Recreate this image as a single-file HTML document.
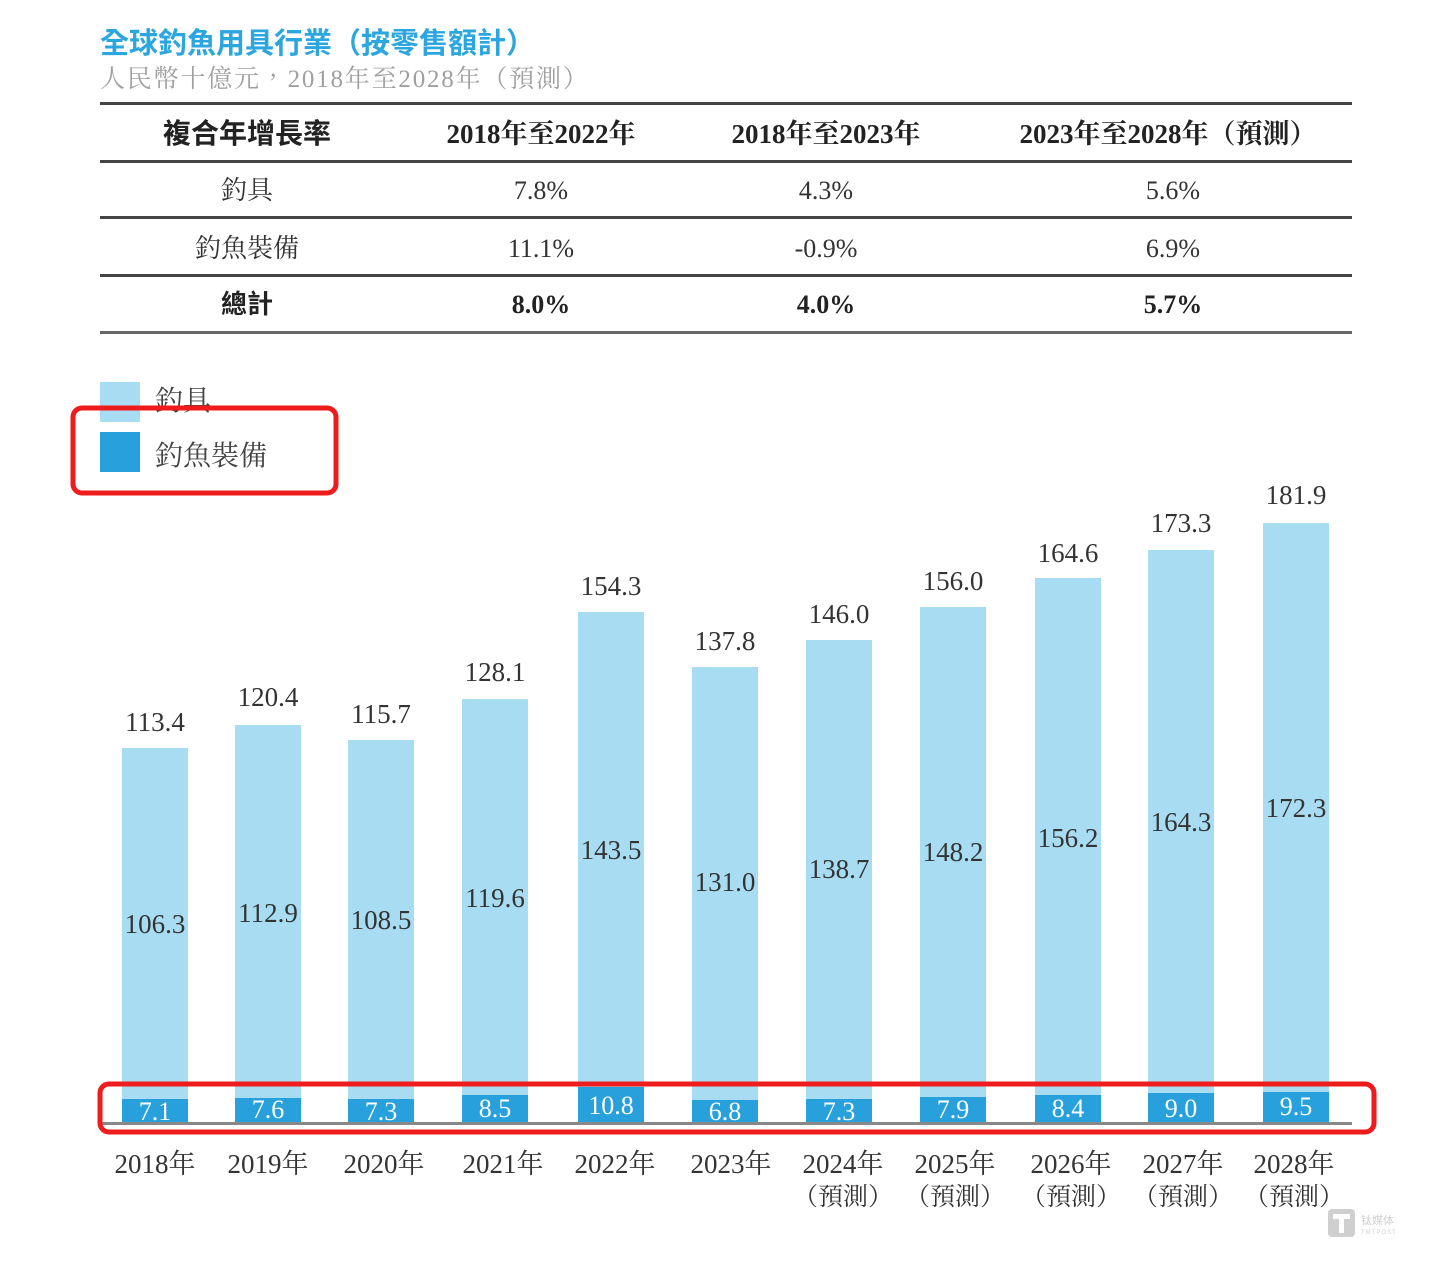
<!DOCTYPE html>
<html>
<head>
<meta charset="utf-8">
<style>
  html,body{margin:0;padding:0;background:#ffffff;}
  body{width:1439px;height:1262px;overflow:hidden;}
  svg{display:block;}
  .serif{font-family:"Liberation Serif","Noto Serif CJK TC","Noto Serif CJK SC",serif;}
  .sans{font-family:"Liberation Sans","Noto Sans CJK TC","Noto Sans CJK SC",sans-serif;}
</style>
</head>
<body>
<svg width="1439" height="1262" viewBox="0 0 1439 1262" xmlns="http://www.w3.org/2000/svg">
  <!-- Title -->
  <text x="100" y="53" class="sans" font-size="29" font-weight="700" fill="#2ba6de">全球釣魚用具行業（按零售額計）</text>
  <text x="100" y="87" class="serif" font-size="25" letter-spacing="1.8" fill="#a0a0a0">人民幣十億元，2018年至2028年（預測）</text>

  <!-- Table lines -->
  <g fill="#444">
    <rect x="100" y="102" width="1252" height="3"/>
    <rect x="100" y="160" width="1252" height="3"/>
    <rect x="100" y="216" width="1252" height="3"/>
    <rect x="100" y="274" width="1252" height="3"/>
    <rect x="100" y="331" width="1252" height="3" fill="#666"/>
  </g>

  <!-- Table header -->
  <g class="serif" font-size="27" font-weight="700" fill="#222" text-anchor="middle">
    <text x="247" y="143" class="sans" font-size="28" font-weight="700">複合年增長率</text>
    <text x="541" y="143">2018年至2022年</text>
    <text x="826" y="143">2018年至2023年</text>
    <text x="1168" y="143">2023年至2028年（預測）</text>
  </g>
  <!-- Table rows -->
  <g class="serif" font-size="26" fill="#333" text-anchor="middle">
    <text x="247" y="199">釣具</text>
    <text x="541" y="199">7.8%</text>
    <text x="826" y="199">4.3%</text>
    <text x="1173" y="199">5.6%</text>
    <text x="247" y="257">釣魚裝備</text>
    <text x="541" y="257">11.1%</text>
    <text x="826" y="257">-0.9%</text>
    <text x="1173" y="257">6.9%</text>
  </g>
  <g class="serif" font-size="26" font-weight="700" fill="#222" text-anchor="middle">
    <text x="247" y="313" class="sans" font-weight="700">總計</text>
    <text x="541" y="313">8.0%</text>
    <text x="826" y="313">4.0%</text>
    <text x="1173" y="313">5.7%</text>
  </g>

  <!-- Legend -->
  <rect x="100" y="382" width="40" height="40" fill="#a8dcf2"/>
  <rect x="100" y="432" width="40" height="40" fill="#27a0dc"/>
  <text x="155" y="410" class="serif" font-size="28" fill="#444">釣具</text>
  <text x="155" y="465" class="serif" font-size="28" fill="#444">釣魚裝備</text>

  <!-- Static bars -->
  <g>
    <rect x="122" y="748" width="66" height="352" fill="#a8dcf2"/>
    <rect x="122" y="1099" width="66" height="24" fill="#27a0dc"/>
    <rect x="235" y="725" width="66" height="373" fill="#a8dcf2"/>
    <rect x="235" y="1098" width="66" height="25" fill="#27a0dc"/>
    <rect x="348" y="740" width="66" height="359" fill="#a8dcf2"/>
    <rect x="348" y="1099" width="66" height="24" fill="#27a0dc"/>
    <rect x="462" y="699" width="66" height="396" fill="#a8dcf2"/>
    <rect x="462" y="1095" width="66" height="28" fill="#27a0dc"/>
    <rect x="578" y="612" width="66" height="476" fill="#a8dcf2"/>
    <rect x="578" y="1087" width="66" height="36" fill="#27a0dc"/>
    <rect x="692" y="667" width="66" height="434" fill="#a8dcf2"/>
    <rect x="692" y="1100" width="66" height="23" fill="#27a0dc"/>
    <rect x="806" y="640" width="66" height="459" fill="#a8dcf2"/>
    <rect x="806" y="1099" width="66" height="24" fill="#27a0dc"/>
    <rect x="920" y="607" width="66" height="490" fill="#a8dcf2"/>
    <rect x="920" y="1097" width="66" height="26" fill="#27a0dc"/>
    <rect x="1035" y="578" width="66" height="518" fill="#a8dcf2"/>
    <rect x="1035" y="1095" width="66" height="28" fill="#27a0dc"/>
    <rect x="1148" y="550" width="66" height="544" fill="#a8dcf2"/>
    <rect x="1148" y="1093" width="66" height="30" fill="#27a0dc"/>
    <rect x="1263" y="523" width="66" height="569" fill="#a8dcf2"/>
    <rect x="1263" y="1092" width="66" height="31" fill="#27a0dc"/>
  </g>

  <!-- Axis line -->
  <rect x="100" y="1122" width="1252" height="3" fill="#888"/>

  <!-- Top totals -->
  <g class="serif" font-size="27" fill="#333" text-anchor="middle">
    <text x="155" y="731">113.4</text>
    <text x="268" y="706">120.4</text>
    <text x="381" y="723">115.7</text>
    <text x="495" y="681">128.1</text>
    <text x="611" y="595">154.3</text>
    <text x="725" y="650">137.8</text>
    <text x="839" y="623">146.0</text>
    <text x="953" y="590">156.0</text>
    <text x="1068" y="562">164.6</text>
    <text x="1181" y="532">173.3</text>
    <text x="1296" y="504">181.9</text>
  </g>

  <!-- Inner light labels -->
  <g class="serif" font-size="27" fill="#333" text-anchor="middle">
    <text x="155" y="933">106.3</text>
    <text x="268" y="922">112.9</text>
    <text x="381" y="929">108.5</text>
    <text x="495" y="907">119.6</text>
    <text x="611" y="859">143.5</text>
    <text x="725" y="891">131.0</text>
    <text x="839" y="878">138.7</text>
    <text x="953" y="861">148.2</text>
    <text x="1068" y="847">156.2</text>
    <text x="1181" y="831">164.3</text>
    <text x="1296" y="817">172.3</text>
  </g>

  <!-- Dark labels -->
  <g class="serif" font-size="26" fill="#ffffff" text-anchor="middle">
    <text x="155" y="1120">7.1</text>
    <text x="268" y="1118">7.6</text>
    <text x="381" y="1120">7.3</text>
    <text x="495" y="1117">8.5</text>
    <text x="611" y="1114">10.8</text>
    <text x="725" y="1120">6.8</text>
    <text x="839" y="1120">7.3</text>
    <text x="953" y="1118">7.9</text>
    <text x="1068" y="1117">8.4</text>
    <text x="1181" y="1117">9.0</text>
    <text x="1296" y="1115">9.5</text>
  </g>

  <!-- Red highlight boxes -->
  <rect x="73" y="408" width="263" height="85" rx="9" ry="9" fill="none" stroke="#ee1c1c" stroke-width="5"/>
  <rect x="100" y="1084" width="1274" height="48" rx="9" ry="9" fill="none" stroke="#ee1c1c" stroke-width="5"/>

  <!-- X labels -->
  <g class="serif" font-size="27" fill="#333" text-anchor="middle">
    <text x="155" y="1173">2018年</text>
    <text x="268" y="1173">2019年</text>
    <text x="384" y="1173">2020年</text>
    <text x="503" y="1173">2021年</text>
    <text x="615" y="1173">2022年</text>
    <text x="731" y="1173">2023年</text>
    <text x="843" y="1173">2024年</text>
    <text x="955" y="1173">2025年</text>
    <text x="1071" y="1173">2026年</text>
    <text x="1183" y="1173">2027年</text>
    <text x="1294" y="1173">2028年</text>
  </g>
  <g class="serif" font-size="25" fill="#333" text-anchor="middle">
    <text x="843" y="1205">（預測）</text>
    <text x="955" y="1205">（預測）</text>
    <text x="1071" y="1205">（預測）</text>
    <text x="1183" y="1205">（預測）</text>
    <text x="1294" y="1205">（預測）</text>
  </g>

  <!-- Watermark -->
  <rect x="1328" y="1209" width="27" height="28" rx="4" fill="#cfcfcf"/>
  <rect x="1333" y="1214" width="17" height="5" fill="#fff"/>
  <rect x="1339" y="1214" width="5" height="19" fill="#fff"/>
  <text x="1361" y="1224" class="sans" font-size="11" fill="#cfcfcf">钛媒体</text>
  <text x="1361" y="1234" class="sans" font-size="6" fill="#cfcfcf" letter-spacing="1">TMTPOST</text>
</svg>
</body>
</html>
